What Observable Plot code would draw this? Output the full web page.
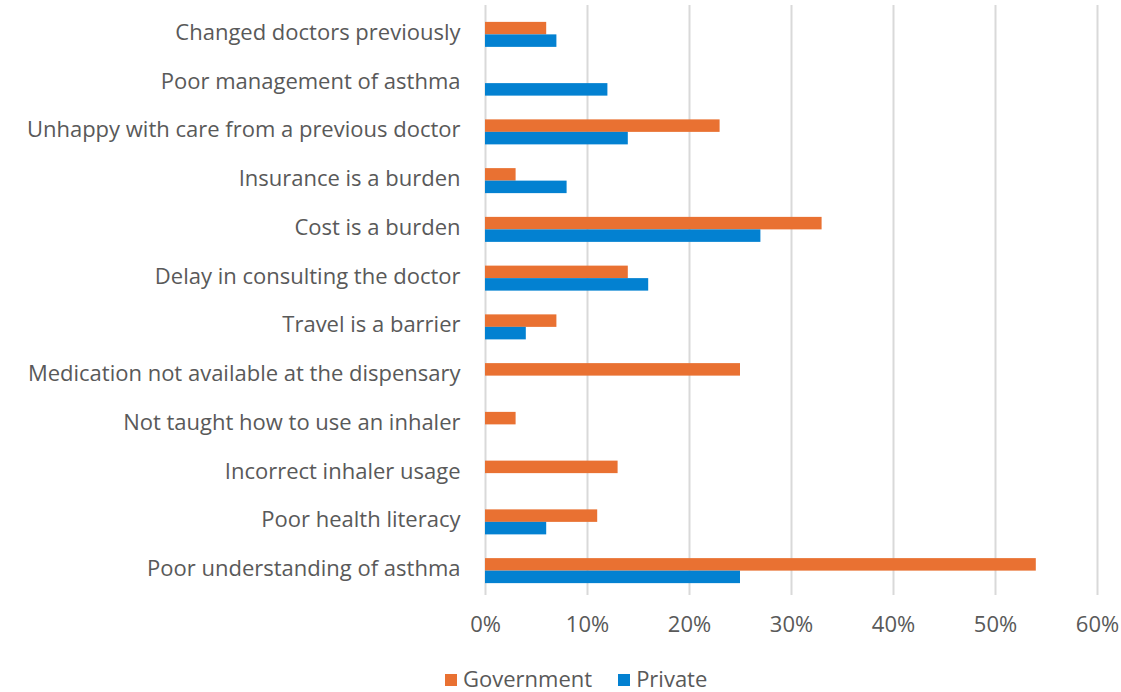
<!DOCTYPE html>
<html>
<head>
<meta charset="utf-8">
<script src="https://cdn.jsdelivr.net/npm/d3@7"></script>
<script src="https://cdn.jsdelivr.net/npm/@observablehq/plot@0.6"></script>
<style>
  body { margin: 0; background: #fff; font-family: "Open Sans", sans-serif; }
  #chart { position: relative; width: 1121px; height: 692px; }
  .legend { position: absolute; left: 445px; top: 663px; display: flex; gap: 26px; font-size: 22px; color: #595959; }
  .legend span.sw { display: inline-block; width: 12px; height: 12px; margin-right: 6px; vertical-align: middle; position: relative; top: -1px; }
</style>
</head>
<body>
<div id="chart"></div>
<script>
const categories = [
  "Changed doctors previously",
  "Poor management of asthma",
  "Unhappy with care from a previous doctor",
  "Insurance is a burden",
  "Cost is a burden",
  "Delay in consulting the doctor",
  "Travel is a barrier",
  "Medication not available at the dispensary",
  "Not taught how to use an inhaler",
  "Incorrect inhaler usage",
  "Poor health literacy",
  "Poor understanding of asthma"
];
const government = [0.06, 0, 0.23, 0.03, 0.33, 0.14, 0.07, 0.25, 0.03, 0.13, 0.11, 0.54];
const privateVals = [0.07, 0.12, 0.14, 0.08, 0.27, 0.16, 0.04, 0, 0, 0, 0.06, 0.25];
const series = ["Government", "Private"];
const colors = ["#E97132", "#0381D1"];
const xTicks = [0, 0.1, 0.2, 0.3, 0.4, 0.5, 0.6];

const gov = categories.map((c, i) => ({category: c, value: government[i], series: "Government"}));
const pri = categories.map((c, i) => ({category: c, value: privateVals[i], series: "Private"}));

const H = 650, mTop = 10, mBottom = 55;
const band = (H - mTop - mBottom) / categories.length;
const barH = 12.5;
const fmt = d => Math.round(d * 100) + "%";

const plot = Plot.plot({
  width: 1121,
  height: H,
  marginLeft: 485,
  marginRight: 24,
  marginTop: mTop,
  marginBottom: mBottom,
  style: { fontFamily: "Open Sans, sans-serif", fontSize: "22px", color: "#595959", background: "#fff" },
  x: { domain: [0, 0.6], ticks: xTicks, tickFormat: fmt, label: null },
  y: { domain: categories, padding: 0, round: false, label: null },
  marks: [
    Plot.ruleX(xTicks, { stroke: "#d9d9d9", strokeWidth: 2, insetTop: -5 }),
    Plot.barX(gov, { x: "value", y: "category", fill: colors[0], insetTop: band / 2 - barH, insetBottom: band / 2 }),
    Plot.barX(pri, { x: "value", y: "category", fill: colors[1], insetTop: band / 2, insetBottom: band / 2 - barH }),
    Plot.axisY({ tickSize: 0, tickPadding: 25, fontSize: 22, fill: "#595959", dy: -2 }),
    Plot.axisX({ ticks: xTicks, tickSize: 0, tickPadding: 21, tickFormat: fmt, fontSize: 22, fill: "#595959", label: null })
  ]
});
const chart = document.getElementById("chart");
chart.appendChild(plot);

const legend = document.createElement("div");
legend.className = "legend";
series.forEach((s, i) => {
  const item = document.createElement("div");
  item.innerHTML = `<span class="sw" style="background:${colors[i]}"></span>${s}`;
  legend.appendChild(item);
});
chart.appendChild(legend);
</script>
</body>
</html>
